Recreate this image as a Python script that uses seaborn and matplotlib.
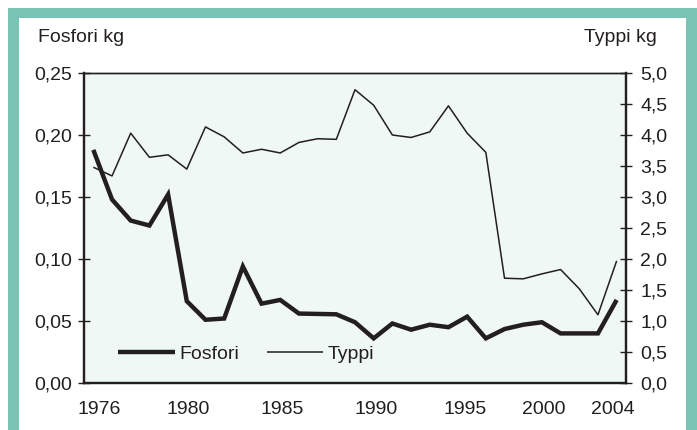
import matplotlib
matplotlib.use('Agg')
import numpy as np
import pandas as pd
import matplotlib.pyplot as plt
import seaborn as sns
from matplotlib.patches import Rectangle
from matplotlib.ticker import FixedLocator, FuncFormatter

# Data
years = list(range(1976, 2005))
fosfori = [0.188, 0.148, 0.131, 0.127, 0.152, 0.066, 0.051, 0.052, 0.094, 0.064,
           0.067, 0.056, 0.0557, 0.0554, 0.049, 0.036, 0.048, 0.043, 0.047, 0.045,
           0.0535, 0.036, 0.0435, 0.047, 0.049, 0.040, 0.040, 0.040, 0.067]
typpi = [3.48, 3.34, 4.03, 3.64, 3.68, 3.45, 4.13, 3.97, 3.71, 3.77,
         3.71, 3.88, 3.94, 3.93, 4.73, 4.48, 4.00, 3.96, 4.05, 4.47,
         4.03, 3.72, 1.69, 1.68, 1.76, 1.83, 1.52, 1.10, 1.97]
year_labels = [1976, 1980, 1985, 1990, 1995, 2000, 2004]
left_ticks = [0.0, 0.05, 0.10, 0.15, 0.20, 0.25]
right_ticks = [0.0, 0.5, 1.0, 1.5, 2.0, 2.5, 3.0, 3.5, 4.0, 4.5, 5.0]

# label placement offsets (the original labels sit a bit off the categories)
label_shift = [0.33, 1.10, 1.10, 1.15, 0.89, 0.11, -0.18]

df = pd.DataFrame({'year': years, 'fosfori': fosfori, 'typpi': typpi})

sns.set_style('white')
plt.rcParams['font.family'] = ['Liberation Sans', 'DejaVu Sans']
ink = '#231f20'
green = '#79c4b5'
plt.rcParams['text.color'] = ink
plt.rcParams['xtick.color'] = ink
plt.rcParams['ytick.color'] = ink

fig = plt.figure(figsize=(6.97, 4.30), dpi=100)
fig.patch.set_facecolor('white')

W, H = 697, 430
# green frame with white inner panel
fig.patches.append(Rectangle((8 / W, 0), 1, 1 - 8 / H, transform=fig.transFigure,
                             facecolor=green, edgecolor='none', zorder=-2))
fig.patches.append(Rectangle((19 / W, 0), (686 - 19) / W, 1 - 18 / H,
                             transform=fig.transFigure, facecolor='white',
                             edgecolor='none', zorder=-1))

ax = fig.add_axes([84 / W, 1 - 383 / H, (626 - 84) / W, (383 - 73) / H])
ax.set_facecolor('#f0f8f5')
ax2 = ax.twinx()

sns.lineplot(data=df, x='year', y='fosfori', ax=ax, color=ink, linewidth=3.2,
             solid_capstyle='butt', solid_joinstyle='miter', label='Fosfori', legend=False)
sns.lineplot(data=df, x='year', y='typpi', ax=ax2, color=ink, linewidth=1.1,
             solid_capstyle='butt', label='Typpi', legend=False)

ax.set_xlim(years[0] - 0.5, years[-1] + 0.5)
ax.set_ylim(0, 0.25)
ax2.set_ylim(0, 5.0)

ax.set_xlabel('')
ax.set_ylabel('')
ax2.set_ylabel('')

ax.yaxis.set_major_locator(FixedLocator(left_ticks))
ax.yaxis.set_major_formatter(FuncFormatter(lambda v, p: f'{v:.2f}'.replace('.', ',')))
ax2.yaxis.set_major_locator(FixedLocator(right_ticks))
ax2.yaxis.set_major_formatter(FuncFormatter(lambda v, p: f'{v:.1f}'.replace('.', ',')))

# year labels as major ticks (no marks), category boundaries as minor ticks
ax.set_xticks([y + s for y, s in zip(year_labels, label_shift)])
ax.set_xticklabels([str(y) for y in year_labels])
ax.set_xticks([years[0] - 0.5 + k for k in range(len(years) + 1)], minor=True)

ax.tick_params(axis='x', which='major', length=0, pad=13, labelsize=14)
ax.tick_params(axis='x', which='minor', direction='inout', length=8, width=1.0)
ax.tick_params(axis='y', direction='inout', length=8.5, width=1.0, pad=4, labelsize=14)
ax2.tick_params(axis='y', direction='inout', length=8.5, width=1.0, pad=6, labelsize=14)

for a in (ax, ax2):
    for side in ('left', 'right', 'bottom'):
        a.spines[side].set_linewidth(1.6)
        a.spines[side].set_color(ink)
    a.spines['top'].set_linewidth(1.0)
    a.spines['top'].set_color(ink)

fig.text(38 / W, 1 - 41.5 / H, 'Fosfori kg', fontsize=14, ha='left', va='baseline')
fig.text(657 / W, 1 - 41.5 / H, 'Typpi kg', fontsize=14, ha='right', va='baseline')

h1, l1 = ax.get_legend_handles_labels()
h2, l2 = ax2.get_legend_handles_labels()
ax2.legend(h1 + h2, l1 + l2, loc='lower left', bbox_to_anchor=(0.049, 0.04), ncol=2,
           frameon=False, fontsize=14, handlelength=2.9, handletextpad=0.25,
           columnspacing=1.4, borderaxespad=0)

fig.savefig('out.png', dpi=100)
